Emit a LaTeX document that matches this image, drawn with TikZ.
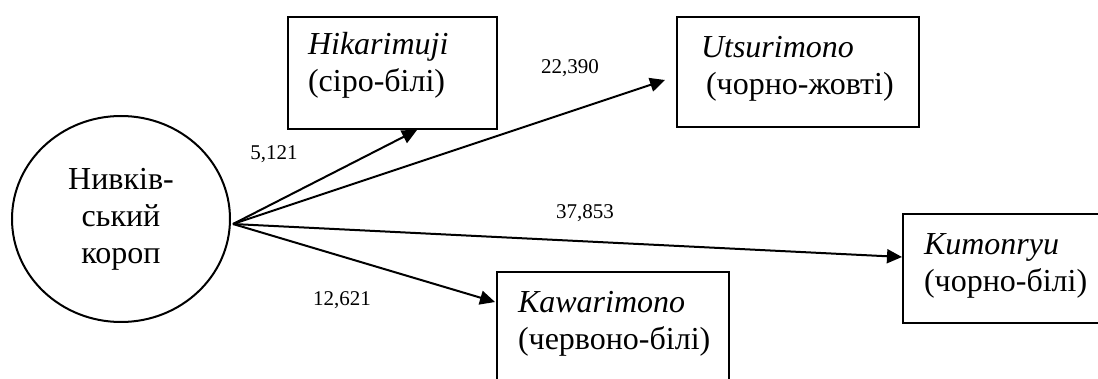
\documentclass[tikz,border=0pt]{standalone}
\usepackage{fontspec}
\setmainfont{Liberation Serif}
\usetikzlibrary{shapes.geometric,arrows.meta,calc}
\exhyphenpenalty=10000
\hyphenpenalty=10000

\tikzset{
  kbox/.style={draw, line width=1pt, rectangle, anchor=north west, align=left,
    inner ysep=0pt, font=\fontsize{16}{18.5}\selectfont},
  arr/.style={line width=1pt, -{Triangle[length=7.5pt,width=7pt]}},
  lbl/.style={font=\fontsize{10.5}{12}\selectfont, inner sep=0pt}
}

\begin{document}
\begin{tikzpicture}[x=0.5pt,y=-0.5pt]
\useasboundingbox (0,0) rectangle (1098,379);

% carp and the four groups
\node[draw, line width=1pt, ellipse, minimum width=109pt, minimum height=103pt,
  inner sep=0pt, align=center, font=\fontsize{16}{18.5}\selectfont]
  (koi) at (121,219) {Нивків-\\ський\\короп};

\node[kbox, inner xsep=10pt, text width=84.5pt, text height=19pt, text depth=37pt]
  (hik) at (287,16) {\textit{Hikarimuji}\\(сіро-білі)};
\node[kbox, inner xsep=12pt, text width=97pt, text height=20.5pt, text depth=34.5pt]
  (uts) at (676,16) {\textit{Utsurimono}\\\hspace*{2.5pt}(чорно-жовті)};
\node[kbox, inner xsep=10.5pt, text width=89pt, text height=20.5pt, text depth=34pt]
  (kum) at (902,213) {\textit{Kumonryu}\\(чорно-білі)};
\node[kbox, inner xsep=10.5pt, text width=95pt, text height=20.5pt, text depth=44.5pt]
  (kaw) at (496,271) {\textit{Kawarimono}\\(червоно-білі)};

% connectors
\coordinate (fork) at ($(koi.east)+(2,5)$);
\coordinate (hikin) at ($(hik.south west)+(130,0)$);
\coordinate (utsin) at ($(uts.north west)+(-11,64)$);
\coordinate (kumin) at ($(kum.north west)+(0,44)$);
\coordinate (kawin) at ($(kaw.north west)+(-1,31)$);

\draw[arr] (fork) -- (hikin);
\draw[arr] (fork) -- (utsin);
\draw[arr] (fork) -- (kumin);
\draw[arr] (fork) -- (kawin);

% weights
\node[lbl] (lhik) at (274,154) {5,121};
\node[lbl] (luts) at (570,68) {22,390};
\node[lbl] (lkum) at (585,213) {37,853};
\node[lbl] (lkaw) at (342,300) {12,621};
\end{tikzpicture}
\end{document}
